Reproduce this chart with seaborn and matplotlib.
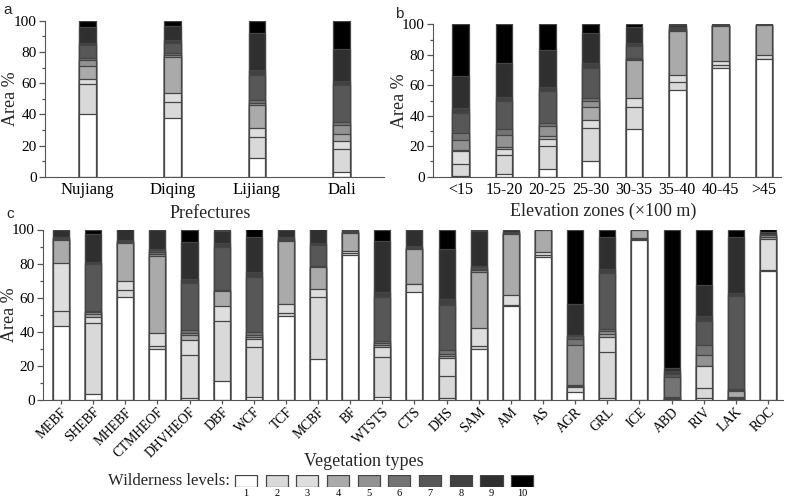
import numpy as np
import pandas as pd
import matplotlib
matplotlib.use('Agg')
import matplotlib.pyplot as plt
import seaborn as sns
from matplotlib.ticker import MultipleLocator

# Wilderness levels 1..10 (share of area, %), one row per category
level_labels = ['1', '2', '3', '4', '5', '6', '7', '8', '9', '10']
level_colors = ['#ffffff', '#d9d9d9', '#dedede', '#aaaaaa', '#929292',
                '#747474', '#575757', '#414141', '#2f2f2f', '#000000']

prefectures = ['Nujiang', 'Diqing', 'Lijiang', 'Dali']
prefecture_area = [
    [40.5, 19.0, 3.0, 8.5, 4.0, 1.0, 8.5, 1.0, 10.5, 4.0],
    [37.8, 9.8, 5.8, 23.1, 1.5, 1.0, 6.9, 1.6, 9.3, 3.2],
    [12.2, 13.4, 5.4, 14.9, 1.5, 2.0, 16.1, 3.2, 23.3, 8.0],
    [3.2, 14.3, 5.1, 4.8, 5.9, 1.7, 24.0, 2.3, 20.7, 18.0],
]

elevation_zones = ['<15', '15-20', '20-25', '25-30', '30-35', '35-40', '40-45', '>45']
elevation_area = [
    [0.5, 7.6, 8.7, 0.7, 6.5, 5.0, 13.0, 3.0, 21.0, 34.0],
    [2.0, 12.0, 4.0, 1.5, 8.0, 3.5, 19.0, 2.5, 22.0, 25.5],
    [5.0, 15.0, 5.0, 1.5, 6.5, 2.0, 21.0, 3.0, 24.0, 17.0],
    [10.5, 21.5, 5.0, 9.0, 3.5, 2.0, 20.0, 3.0, 20.0, 5.5],
    [31.5, 14.5, 5.5, 25.0, 1.0, 0.5, 8.0, 1.5, 11.0, 1.5],
    [57.0, 5.0, 4.5, 29.0, 1.0, 0.5, 0.5, 0.5, 1.5, 0.5],
    [71.0, 2.0, 3.0, 23.0, 0.2, 0.1, 0.1, 0.1, 0.3, 0.2],
    [77.0, 0.5, 2.5, 19.5, 0.1, 0.1, 0.1, 0.05, 0.05, 0.1],
]

vegetation_types = ['MEBF', 'SHEBF', 'MHEBF', 'CTMHEOF', 'DHVHEOF', 'DBF', 'WCF',
                    'TCF', 'MCBF', 'BF', 'WTSTS', 'CTS', 'DHS', 'SAM', 'AM', 'AS',
                    'AGR', 'GRL', 'ICE', 'ABD', 'RIV', 'LAK', 'ROC']
vegetation_area = [
    [43.6, 8.8, 27.8, 13.6, 0.6, 0.6, 0.4, 0.4, 4.2, 0.0],
    [3.5, 41.7, 3.3, 1.9, 1.0, 0.6, 27.8, 1.3, 16.3, 2.6],
    [60.6, 4.1, 4.9, 22.3, 1.0, 0.3, 0.2, 0.2, 6.4, 0.0],
    [29.9, 1.6, 7.8, 45.4, 0.9, 1.0, 1.4, 0.6, 11.1, 0.3],
    [1.2, 25.4, 8.6, 2.9, 1.2, 1.8, 27.3, 2.6, 21.5, 7.5],
    [10.9, 35.6, 8.8, 8.8, 0.3, 0.3, 25.2, 2.0, 7.0, 1.1],
    [1.6, 29.3, 4.7, 1.5, 1.0, 1.6, 32.6, 3.0, 20.5, 4.2],
    [49.5, 1.5, 5.3, 37.2, 0.5, 0.5, 0.5, 0.5, 4.5, 0.0],
    [24.0, 36.6, 4.3, 12.9, 0.4, 0.3, 12.3, 1.4, 7.8, 0.0],
    [85.2, 0.8, 1.2, 10.6, 0.3, 0.3, 0.3, 0.3, 1.0, 0.0],
    [2.0, 23.4, 5.5, 1.6, 0.9, 1.4, 25.8, 2.5, 30.0, 6.9],
    [63.1, 4.9, 0.3, 20.3, 0.3, 0.3, 0.4, 1.0, 9.4, 0.0],
    [1.2, 13.1, 10.3, 1.4, 1.0, 2.3, 26.4, 3.5, 29.4, 11.4],
    [29.9, 1.6, 10.5, 32.9, 1.3, 0.8, 0.8, 1.0, 20.1, 1.1],
    [55.3, 0.4, 5.9, 35.8, 0.3, 0.3, 0.3, 0.3, 1.4, 0.0],
    [83.7, 1.5, 1.4, 13.1, 0.1, 0.05, 0.05, 0.05, 0.05, 0.0],
    [4.9, 2.9, 0.6, 0.5, 23.5, 3.5, 1.5, 1.0, 17.9, 43.7],
    [1.2, 27.1, 8.5, 1.9, 1.6, 1.3, 32.7, 2.5, 18.6, 4.6],
    [93.8, 0.6, 0.6, 5.0, 0.0, 0.0, 0.0, 0.0, 0.0, 0.0],
    [0.3, 0.3, 0.3, 0.3, 0.3, 12.0, 2.0, 1.5, 2.0, 81.0],
    [1.0, 6.0, 12.7, 0.3, 6.6, 5.5, 14.4, 3.0, 17.9, 32.6],
    [0.6, 0.5, 0.5, 3.9, 0.5, 0.5, 54.7, 1.4, 32.8, 4.6],
    [75.5, 0.7, 18.2, 1.4, 0.7, 0.3, 0.3, 0.4, 0.8, 1.7],
]

sns.set_style('ticks')
plt.rcParams['font.family'] = ['Liberation Serif', 'DejaVu Serif']
plt.rcParams['axes.edgecolor'] = '#555555'
plt.rcParams['xtick.color'] = '#555555'
plt.rcParams['ytick.color'] = '#555555'
plt.rcParams['xtick.labelcolor'] = 'black'
plt.rcParams['ytick.labelcolor'] = 'black'

EDGE = '#454545'


def stacked_panel(ax, cats, rows, width):
    df = pd.DataFrame(rows, columns=level_labels)
    cum = df.cumsum(axis=1)
    # overlay cumulative bars from the top level down
    for i in range(9, -1, -1):
        sns.barplot(x=cats, y=cum[level_labels[i]].values, order=cats,
                    color=level_colors[i], saturation=1, width=width,
                    edgecolor=EDGE, linewidth=0.9, errorbar=None, ax=ax)
    ax.set_ylim(0, 100)
    ax.yaxis.set_major_locator(MultipleLocator(20))
    ax.yaxis.set_minor_locator(MultipleLocator(10))
    ax.tick_params(axis='y', which='major', length=4, width=0.9, labelsize=11, pad=2)
    ax.tick_params(axis='y', which='minor', length=2.5, width=0.9)
    ax.set_xlabel('')
    ax.set_ylabel('Area %', fontsize=13)
    sns.despine(ax=ax)


fig = plt.figure(figsize=(7.87, 5.0), dpi=100)

# panel a
ax_a = fig.add_axes([0.0572, 0.6466, 0.431, 0.312])
stacked_panel(ax_a, prefectures, prefecture_area, 0.2)
ax_a.set_xlim(-0.5, 3.5)
ax_a.tick_params(axis='x', length=0, labelsize=12, pad=4)
ax_a.yaxis.set_label_coords(-0.077, 0.5)

# panel b
ax_b = fig.add_axes([0.5502, 0.6466, 0.4425, 0.3048])
stacked_panel(ax_b, elevation_zones, elevation_area, 0.385)
ax_b.set_xlim(-0.64, 7.4)
ax_b.tick_params(axis='x', length=0, labelsize=11.5, pad=4)
ax_b.yaxis.set_label_coords(-0.072, 0.5)

# panel c
ax_c = fig.add_axes([0.055, 0.2, 0.940, 0.341])
stacked_panel(ax_c, vegetation_types, vegetation_area, 0.5)
ax_c.set_xlim(-0.55, 22.47)
ax_c.tick_params(axis='x', length=3, width=0.9, labelsize=9.8, pad=1)
for lab in ax_c.get_xticklabels():
    lab.set_rotation(45)
    lab.set_ha('right')
    lab.set_va('top')
    lab.set_rotation_mode('anchor')
ax_c.yaxis.set_label_coords(-0.034, 0.5)

# axis titles placed as in the original layout
fig.text(210 / 787, 0.573, 'Prefectures', ha='center', va='center', fontsize=13)
fig.text(603 / 787, 0.578, 'Elevation zones (\u00d7100 m)', ha='center', va='center', fontsize=13)
fig.text(364 / 787, 0.076, 'Vegetation types', ha='center', va='center', fontsize=13)

# panel letters
for x, y, t in [(0.004, 0.995, 'a'), (0.502, 0.985, 'b'), (0.008, 0.587, 'c')]:
    fig.text(x, y, t, ha='left', va='top', fontsize=11, family=['Liberation Sans', 'DejaVu Sans'])

# legend strip: one box per wilderness level
ax_l = fig.add_axes([0.293, 0.026, 0.390, 0.024])
sns.barplot(x=level_labels, y=[1] * 10, hue=level_labels, palette=level_colors,
            saturation=1, width=0.72, edgecolor=EDGE, linewidth=0.9,
            errorbar=None, legend=False, ax=ax_l)
ax_l.set_xlim(-0.5, 9.5)
ax_l.set_ylim(0, 1)
ax_l.set_yticks([])
ax_l.set_xlabel('')
ax_l.set_ylabel('')
ax_l.tick_params(axis='x', length=0, labelsize=7.5, pad=1.5)
for s in ax_l.spines.values():
    s.set_visible(False)
fig.text(230 / 787, 0.038, 'Wilderness levels:', ha='right', va='center', fontsize=12)

fig.savefig('out.png', dpi=100)
